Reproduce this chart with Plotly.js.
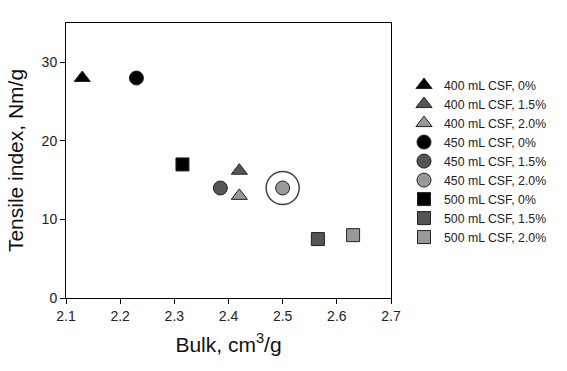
<!DOCTYPE html>
<html>
<head>
<meta charset="utf-8">
<script src="https://cdn.plot.ly/plotly-3.0.1.min.js"></script>
<style>html,body{margin:0;padding:0;background:#fff;}#chart{width:567px;height:371px;}</style>
</head>
<body>
<div id="chart"></div>
<script>
// Data
const seriesNames = [
  "400 mL CSF, 0%", "400 mL CSF, 1.5%", "400 mL CSF, 2.0%",
  "450 mL CSF, 0%", "450 mL CSF, 1.5%", "450 mL CSF, 2.0%",
  "500 mL CSF, 0%", "500 mL CSF, 1.5%", "500 mL CSF, 2.0%"
];
const bulk = [2.13, 2.42, 2.42, 2.23, 2.385, 2.50, 2.315, 2.565, 2.63];
const tensile = [28, 16.2, 13, 28, 14, 14, 17, 7.5, 8];
const symbols = ["triangle-up","triangle-up","triangle-up","circle","circle","circle","square","square","square"];
const fills = ["#000000","#555555","#999999","#000000","#555555","#999999","#000000","#555555","#999999"];
const highlightIndex = 5;
const xTicks = [2.1, 2.2, 2.3, 2.4, 2.5, 2.6, 2.7];
const yTicks = [0, 10, 20, 30];

const traces = seriesNames.map((name, i) => ({
  type: "scatter", mode: "markers", name: name,
  x: [bulk[i]], y: [tensile[i]],
  marker: {symbol: symbols[i], size: symbols[i] === "square" ? 13 : 14, color: fills[i], line: {color: "#222", width: 1}},
  hoverinfo: "x+y+name"
}));
traces.push({
  type: "scatter", mode: "markers", showlegend: false, hoverinfo: "skip",
  x: [bulk[highlightIndex]], y: [tensile[highlightIndex]],
  marker: {symbol: "circle-open", size: 33, color: "#444", line: {color: "#444", width: 1.5}}
});

const layout = {
  width: 567, height: 371,
  margin: {l: 66, r: 176, t: 23, b: 73},
  paper_bgcolor: "#fff", plot_bgcolor: "#fff",
  font: {family: "Arial, 'Liberation Sans', sans-serif", color: "#222"},
  showlegend: true,
  legend: {x: 1.04, y: 0.827, xanchor: "left", yanchor: "top", font: {size: 12.3, color: "#222"}, itemwidth: 30, tracegroupgap: 0, bgcolor: "rgba(0,0,0,0)"},
  xaxis: {
    range: [2.1, 2.7], tickvals: xTicks, ticktext: xTicks.map(v => v.toFixed(1)),
    ticks: "outside", ticklen: 5, tickwidth: 1, tickcolor: "#000",
    showline: true, linecolor: "#000", linewidth: 1, mirror: true,
    showgrid: false, zeroline: false, tickfont: {size: 14, color: "#222"},
    title: {text: "Bulk, cm<sup>3</sup>/g", font: {size: 21, color: "#111"}, standoff: 14}
  },
  yaxis: {
    range: [0, 35], tickvals: yTicks,
    ticks: "outside", ticklen: 5, tickwidth: 1, tickcolor: "#000",
    showline: true, linecolor: "#000", linewidth: 1, mirror: true,
    showgrid: false, zeroline: false, tickfont: {size: 14, color: "#222"},
    title: {text: "Tensile index, Nm/g", font: {size: 21, color: "#111"}, standoff: 12}
  }
};
Plotly.newPlot("chart", traces, layout, {displayModeBar: false, staticPlot: true});
</script>
</body>
</html>
